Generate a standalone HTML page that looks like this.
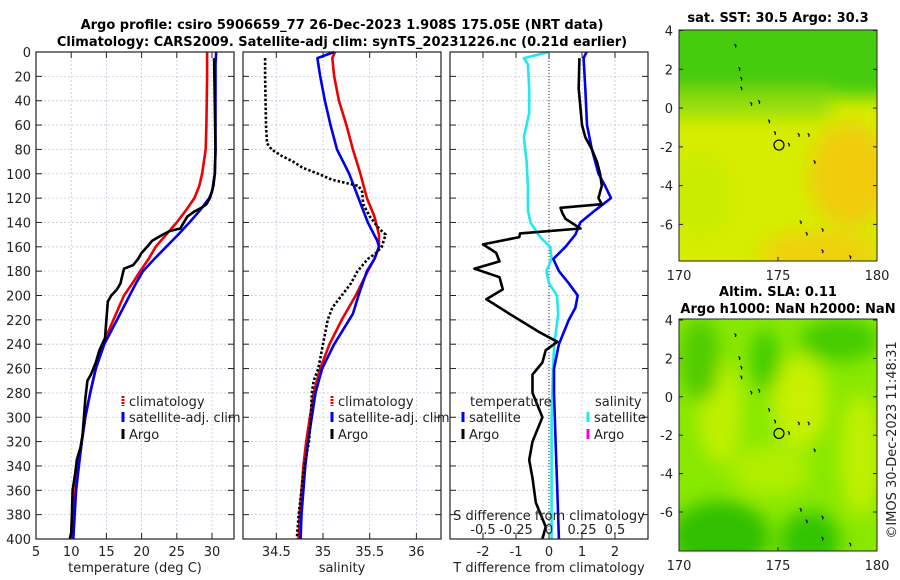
<!DOCTYPE html>
<html><head><meta charset="utf-8">
<style>
html,body{margin:0;padding:0;background:#fff;}
svg{display:block;font-family:"DejaVu Sans","Liberation Sans",sans-serif;}
.tk{font-size:13px;fill:#222;}
.tt{font-size:13px;font-weight:bold;fill:#000;}
</style></head>
<body>
<svg id="fig" width="900" height="580" viewBox="0 0 900 580" xmlns="http://www.w3.org/2000/svg">
<defs>
<filter id="bl" x="-50%" y="-50%" width="200%" height="200%"><feGaussianBlur stdDeviation="9"/></filter>
<clipPath id="c1"><rect x="679" y="30" width="198" height="231"/></clipPath>
<clipPath id="c2"><rect x="679" y="319" width="198" height="232"/></clipPath>
</defs>
<text class="tt" x="342" y="29" text-anchor="middle">Argo profile: csiro 5906659_77 26-Dec-2023 1.908S 175.05E (NRT data)</text>
<text class="tt" x="342" y="46" text-anchor="middle">Climatology: CARS2009. Satellite-adj clim: synTS_20231226.nc (0.21d earlier)</text>
<g id="g1"></g>
<g id="g2"></g>
<g id="g3"></g>

<g>
<g clip-path="url(#c1)">
<rect x="679" y="30" width="198" height="231" fill="#d6ec00"/>
<g filter="url(#bl)">
<rect x="660" y="15" width="240" height="82" fill="#44cc10"/>
<rect x="660" y="90" width="170" height="26" fill="#90dd10"/>
<ellipse cx="850" cy="175" rx="40" ry="52" fill="#f0cc10"/>
<ellipse cx="820" cy="252" rx="60" ry="20" fill="#f0d010"/>
<ellipse cx="700" cy="195" rx="30" ry="40" fill="#c8ec00"/>
</g>
</g>
<rect x="679" y="30" width="198" height="231" fill="none" stroke="#222" stroke-width="1"/>
<text class="tt" x="778" y="22" text-anchor="middle">sat. SST: 30.5 Argo: 30.3</text>
</g>
<g>
<g clip-path="url(#c2)">
<rect x="679" y="319" width="198" height="232" fill="#88e800"/>
<g filter="url(#bl)">
<ellipse cx="720" cy="412" rx="22" ry="52" fill="#c0f000"/>
<ellipse cx="800" cy="402" rx="28" ry="46" fill="#c8f000"/>
<ellipse cx="860" cy="455" rx="20" ry="62" fill="#c0f000"/>
<ellipse cx="770" cy="470" rx="40" ry="26" fill="#b0ee00"/>
<ellipse cx="765" cy="360" rx="14" ry="31" fill="#40cc00"/>
<ellipse cx="840" cy="340" rx="40" ry="21" fill="#44cc00"/>
<ellipse cx="700" cy="360" rx="20" ry="42" fill="#50cc00"/>
<ellipse cx="720" cy="537" rx="50" ry="36" fill="#30c000"/>
<ellipse cx="810" cy="542" rx="30" ry="31" fill="#30c400"/>
</g>
</g>
<rect x="679" y="319" width="198" height="232" fill="none" stroke="#222" stroke-width="1"/>
<text class="tt" x="778" y="296" text-anchor="middle">Altim. SLA: 0.11</text>
<text class="tt" x="788" y="313" text-anchor="middle">Argo h1000: NaN h2000: NaN</text>
</g>
<g id="maps"></g>
<text class="tk" transform="translate(896,440) rotate(-90)" text-anchor="middle">©IMOS 30-Dec-2023 11:48:31</text>
</svg>
<script>
// ---- data ----
const tClimDepth = [0,20,60,80,100,110,120,130,140,150,160,170,180,190,200,220,240,260,280,300,320,340,360,380,400];
const tClim      = [29.3,29.3,29.2,29.1,28.6,28.2,27.5,26.3,25,23.5,22,21,19.8,18.7,17.5,16,14.5,13.5,12.7,12,11.5,11,10.6,10.3,10.1];
const tSatDepth  = [0,10,80,100,115,120,130,140,150,160,170,180,190,200,220,240,260,280,300,320,340,360,380,400];
const tSat       = [30.6,30.5,30.5,30.4,30,29.6,28.3,26.8,25.2,23.5,21.8,20.2,19.2,18.3,16.5,14.7,13.5,12.7,12,11.5,11.1,10.7,10.5,10.3];
const tArgoDepth = [5,80,100,110,120,125,128,131,135,140,145,147,150,155,160,165,170,175,178,185,190,195,200,205,220,235,245,255,265,270,285,300,315,325,335,345,360,380,395,400];
const tArgo      = [30.3,30.5,30.4,30.2,29.7,29.2,28.5,27.5,26.5,26,25.5,24,23,21.5,20.8,20,19.5,18.8,17.5,17.2,17,16.5,15.7,15.2,15,14.8,14,13.5,12.8,12.3,12,11.8,11.6,11.3,10.8,10.6,10.2,10.1,10,9.8];

const sClimDepth = [0,5,20,40,60,80,100,120,135,150,160,170,180,200,220,240,260,280,300,320,340,360,380,400];
const sClim      = [35.13,35.1,35.12,35.17,35.25,35.32,35.4,35.47,35.55,35.6,35.6,35.55,35.48,35.35,35.2,35.07,34.97,34.9,34.86,34.82,34.79,34.77,34.75,34.74];
const sSatDepth  = [0,5,20,40,60,80,100,120,140,155,160,170,180,200,215,240,260,280,300,320,340,360,380,400];
const sSat       = [35.12,34.94,34.97,35.02,35.08,35.15,35.28,35.38,35.48,35.58,35.6,35.55,35.47,35.38,35.32,35.12,34.99,34.92,34.88,34.84,34.81,34.79,34.77,34.76];
const sArgoDepth = [5,20,60,75,80,85,90,95,100,105,110,115,125,135,145,150,155,160,165,170,180,190,200,210,220,240,260,270,280,300,320,340,360,380,400];
const sArgo      = [34.38,34.38,34.39,34.4,34.45,34.55,34.68,34.78,34.95,35.1,35.38,35.42,35.43,35.5,35.6,35.67,35.65,35.63,35.57,35.48,35.37,35.3,35.2,35.1,35.05,35.0,34.95,34.9,34.88,34.87,34.85,34.8,34.77,34.74,34.72];

const dSDepth  = [0,5,10,30,50,70,90,110,130,140,150,155,160,170,180,190,200,215,240,260,300,340,400];
const dSSat    = [0,-0.19,-0.16,-0.15,-0.15,-0.19,-0.17,-0.16,-0.16,-0.14,-0.08,-0.04,0.01,0.02,-0.02,0.0,0.06,0.07,0.04,0.03,0.02,0.02,0.02];
const dTSatDepth = [0,5,30,60,80,100,110,120,130,140,150,160,170,180,190,200,210,220,240,260,280,320,360,400];
const dTSat      = [1.14,1.05,1.1,1.15,1.3,1.5,1.7,1.88,1.4,0.95,0.8,0.5,0.13,0.3,0.6,0.87,0.8,0.6,0.3,0.15,0.15,0.2,0.25,0.3];
const dTArgoDepth = [5,30,60,70,80,90,100,110,115,120,125,128,132,137,145,149,152,158,165,172,178,185,195,203,215,230,238,245,255,265,280,300,320,335,350,370,390,400];
const dTArgo      = [0.92,0.9,1.0,1.1,1.3,1.45,1.55,1.6,1.55,1.5,1.6,0.35,0.4,0.5,0.95,-0.88,-0.9,-2.0,-1.6,-1.5,-2.26,-1.5,-1.4,-1.9,-1.2,-0.3,0.25,-0.1,-0.2,-0.5,-0.5,-0.2,-0.5,-0.6,-0.5,-0.4,-0.1,-0.2];

const depthTicks = [0,20,40,60,80,100,120,140,160,180,200,220,240,260,280,300,320,340,360,380,400];
const tTicks = [5,10,15,20,25,30];
const sTicks = [34.5,35,35.5,36];
const dTTicks = [-2,-1,0,1,2];
const dSTickLabels = ['-0.5','-0.25','0','0.25','0.5'];
const dSTicks = [-0.5,-0.25,0,0.25,0.5];
const latTicks = [4,2,0,-2,-4,-6];
const lonTicks = [170,175,180];

// ---- helpers ----
const NS='http://www.w3.org/2000/svg';
const Y0=52, Y1=539;
const yD = d => Y0 + d*(Y1-Y0)/400;
function mk(tag, attrs, parent){const e=document.createElementNS(NS,tag);for(const k in attrs)e.setAttribute(k,attrs[k]);parent.appendChild(e);return e;}
function lin(d0,d1,r0,r1){return v=>r0+(v-d0)*(r1-r0)/(d1-d0);}

function panel(g, x0, x1, xs, xticks, xlabels, label, name){
  mk('rect',{x:x0,y:Y0,width:x1-x0,height:Y1-Y0,fill:'#fff'},g);
  depthTicks.forEach(d=>{
    const l=mk('line',{x1:x0,x2:x1,y1:yD(d),y2:yD(d),stroke:'#c4c8dc','stroke-width':0.8,'stroke-dasharray':'2,2'},g);
    
    
    mk('line',{x1:x0,x2:x0+6,y1:yD(d),y2:yD(d),stroke:'#222'},g);
    mk('line',{x1:x1-6,x2:x1,y1:yD(d),y2:yD(d),stroke:'#222'},g);
  });
  xticks.forEach((v,i)=>{
    const x=xs(v);
    const l=mk('line',{x1:x,x2:x,y1:Y0,y2:Y1,stroke:'#c4c8dc','stroke-width':0.8,'stroke-dasharray':'2,2'},g);
    
    
    mk('line',{x1:x,x2:x,y1:Y1-6,y2:Y1,stroke:'#222'},g);
    mk('line',{x1:x,x2:x,y1:Y0,y2:Y0+6,stroke:'#222'},g);
    const t=mk('text',{x:x,y:Y1+17,'text-anchor':'middle',class:'tk'},g);
    t.textContent=xlabels[i];
    
    
  });
  const t=mk('text',{x:(x0+x1)/2,y:572,'text-anchor':'middle',class:'tk'},g);
  t.textContent=label;
  
  
}
function frame(g,x0,x1){mk('rect',{x:x0,y:Y0,width:x1-x0,height:Y1-Y0,fill:'none',stroke:'#222','stroke-width':1.2},g);}
function line(g, depths, vals, xs, color, name, dash){
  const p=depths.map((d,i)=>(i?'L':'M')+xs(vals[i]).toFixed(1)+','+yD(d).toFixed(1)).join('');
  const e=mk('path',{d:p,fill:'none',stroke:color,'stroke-width':2.6,'stroke-linejoin':'round'},g);
  if(dash){e.setAttribute('stroke-dasharray',dash);}
  
  
}
function legend(g,x,y,color,label,dash){
  const m=mk('line',{x1:x,x2:x,y1:y-10,y2:y,stroke:color,'stroke-width':3},g);
  if(dash)m.setAttribute('stroke-dasharray',dash);
  
  
  const t=mk('text',{x:x+6,y:y,class:'tk'},g);
  t.textContent=label;
  
  
}
const LY=[406,422,439];

// panel 1: temperature
const g1=document.getElementById('g1');
const xT=lin(5,33.125,36,234);
panel(g1,36,234,xT,tTicks,tTicks.map(String),'temperature (deg C)','temperature');
depthTicks.forEach(d=>{const t=mk('text',{x:31,y:yD(d)+5,'text-anchor':'end',class:'tk'},g1);t.textContent=d;
 
 });
line(g1,tClimDepth,tClim,xT,'#ee0000','temp-climatology-line');
line(g1,tSatDepth,tSat,xT,'#0000ee','temp-satellite-line');
line(g1,tArgoDepth,tArgo,xT,'#000','temp-argo-line');
frame(g1,36,234);
legend(g1,123,LY[0],'#ee0000','climatology','2,1');
legend(g1,123,LY[1],'#0000ee','satellite-adj. clim');
legend(g1,123,LY[2],'#000','Argo');

// panel 2: salinity
const g2=document.getElementById('g2');
const xS=lin(34.5,35,276.3,323);
panel(g2,243,441,xS,sTicks,sTicks.map(String),'salinity','salinity');
line(g2,sClimDepth,sClim,xS,'#ee0000','sal-climatology-line');
line(g2,sSatDepth,sSat,xS,'#0000ee','sal-satellite-line');
line(g2,sArgoDepth,sArgo,xS,'#000','sal-argo-line','2.5,2');
frame(g2,243,441);
legend(g2,332,LY[0],'#ee0000','climatology','2,1');
legend(g2,332,LY[1],'#0000ee','satellite-adj. clim');
legend(g2,332,LY[2],'#000','Argo');

// panel 3: differences
const g3=document.getElementById('g3');
const xDT=lin(-3,3,450,648);
const xDS=lin(-0.75,0.75,450,648);
panel(g3,450,648,xDT,dTTicks,dTTicks.map(String),'T difference from climatology','difference');
mk('line',{x1:xDT(0),x2:xDT(0),y1:Y0,y2:Y1,stroke:'#333','stroke-width':1,'stroke-dasharray':'1,2'},g3);
line(g3,dSDepth,dSSat,xDS,'#22e8f0','sal-diff-satellite-line');
line(g3,dTSatDepth,dTSat,xDT,'#0000ee','temp-diff-satellite-line');
line(g3,dTArgoDepth,dTArgo,xDT,'#000','temp-diff-argo-line');
frame(g3,450,648);
(function(){
 const t=mk('text',{x:549,y:520,'text-anchor':'middle',class:'tk'},g3);t.textContent='S difference from climatology';
 
 
 dSTicks.forEach((v,i)=>{const l=mk('text',{x:xDS(v),y:534,'text-anchor':'middle',class:'tk'},g3);l.textContent=dSTickLabels[i];
 
 });
 const a=mk('text',{x:470,y:LY[0],class:'tk'},g3);a.textContent='temperature';
 
 
 const b=mk('text',{x:595,y:LY[0],class:'tk'},g3);b.textContent='salinity';
 
 
})();
legend(g3,463,LY[1],'#0000ee','satellite');
legend(g3,463,LY[2],'#000','Argo');
legend(g3,588,LY[1],'#22e8f0','satellite');
legend(g3,588,LY[2],'#ff00cc','Argo');

// maps axes
const gm=document.getElementById('maps');
const xLon=lin(170,180,679,877);
const maps=[{top:30.5,sc:19.39,bot:261,lab:280},{top:320,sc:19.2,bot:551,lab:570}];
const coast=[[172.8,3.3],[173,2.1],[173.1,1.6],[173.1,1.1],[173.6,0.3],[174,0.4],[174.5,-0.6],[174.8,-1.2],[175.5,-1.8],[176,-1.3],[176.5,-1.3],[176.8,-2.7],[176.1,-5.8],[176.4,-6.4],[177.2,-6.2],[177.2,-7.3],[178.6,-7.6]];
maps.forEach((m,mi)=>{
 const yL=lat=>m.top+(4-lat)*m.sc;
 latTicks.forEach(l=>{const y=yL(l);mk('line',{x1:679,x2:683,y1:y,y2:y,stroke:'#222'},gm);mk('line',{x1:873,x2:877,y1:y,y2:y,stroke:'#222'},gm);
  const t=mk('text',{x:673,y:y+5,'text-anchor':'end',class:'tk'},gm);t.textContent=l;
  
  });
 lonTicks.forEach(l=>{const x=xLon(l);mk('line',{x1:x,x2:x,y1:m.bot-4,y2:m.bot,stroke:'#222'},gm);
  const t=mk('text',{x:x,y:m.lab,'text-anchor':'middle',class:'tk'},gm);t.textContent=l;
  
  });
 coast.forEach(c=>{const e=mk('path',{d:'M'+xLon(c[0])+','+yL(c[1])+'l1.5,1.5l-0.5,2',stroke:'#000','stroke-width':1.2,fill:'none'},gm);
  
  });
 const c=mk('circle',{cx:xLon(175.05),cy:yL(-1.908),r:5,fill:'none',stroke:'#000','stroke-width':1.2},gm);
 
 
});
</script>
</body></html>
